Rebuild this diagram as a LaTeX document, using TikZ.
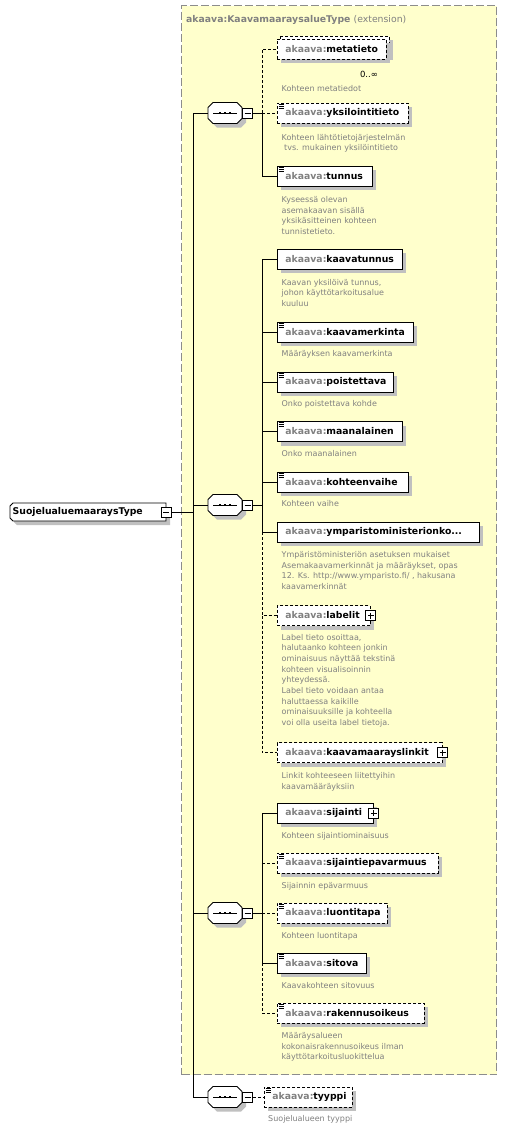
\documentclass[tikz,border=0pt]{standalone}
\usepackage{fontspec}
\setmainfont{DejaVu Sans}
\usetikzlibrary{shadows}
\definecolor{ylw}{RGB}{255,255,204}
\definecolor{shd}{RGB}{192,192,192}
\definecolor{tg}{RGB}{128,128,128}
\definecolor{bordergray}{RGB}{140,140,140}
\newcommand\ak[1]{\textcolor{tg}{akaava:}#1}
\newcommand\simpleicon[1]{%
  \draw[line width=0.7pt] ([shift={(1.5pt,-1.5pt)}]#1.north west) -- ++(5.5pt,0pt);
  \draw[line width=0.7pt] ([shift={(1.5pt,-3.5pt)}]#1.north west) -- ++(5.5pt,0pt);
  \draw[line width=0.7pt] ([shift={(1.5pt,-5.5pt)}]#1.north west) -- ++(5.5pt,0pt);}
\newcommand\seqnode[3]{%
  \begin{scope}[shift={(#2,#3)}]
    \fill[shd] (-13,-1.5) -- (-8,-6.5) -- (16,-6.5) -- (21,-1.5) -- (21,9.5) -- (16,14.5) -- (-8,14.5) -- (-13,9.5) -- cycle;
    \draw[fill=white, line width=0.8pt] (-17,-5.5) -- (-12,-10.5) -- (12,-10.5) -- (17,-5.5) -- (17,5.5) -- (12,10.5) -- (-12,10.5) -- (-17,5.5) -- cycle;
    \draw[line width=0.8pt] (-12,0) -- (12,0);
    \fill (-6.3,-1.3) rectangle (-3.7,1.3);
    \fill (-1.3,-1.3) rectangle (1.3,1.3);
    \fill (3.7,-1.3) rectangle (6.3,1.3);
    \node[seqbox] (#1) at (0,0) {};
    \node[pmminus] (#1m) at (22.5,0) {};
  \end{scope}}
\tikzset{
  elem/.style={draw, fill=white, line width=0.8pt, minimum height=20pt,
    inner xsep=8pt, inner ysep=0pt, anchor=west, align=left, text width=#1,
    font=\fontsize{9.3}{11}\selectfont\bfseries,
    drop shadow={shadow xshift=4pt, shadow yshift=-4pt, fill=shd, opacity=1}},
  optl/.style={dash pattern=on 3pt off 2pt},
  optelem/.style={elem=#1, optl},
  desc/.style={anchor=north west, inner sep=0pt, align=left, text=tg,
    font=\fontsize{8}{10.67}\selectfont},
  conn/.style={line width=0.8pt},
  seqbox/.style={draw=none, minimum width=34pt, minimum height=21pt, inner sep=0pt},
  pm/.style={draw, fill=white, line width=0.7pt, minimum width=10pt, minimum height=10pt, inner sep=0pt},
  pmminus/.style={pm, path picture={\draw[line width=0.7pt] ([xshift=2pt]path picture bounding box.west) -- ([xshift=-2pt]path picture bounding box.east);}},
  pmplus/.style={pm, path picture={\draw[line width=0.7pt] ([xshift=2pt]path picture bounding box.west) -- ([xshift=-2pt]path picture bounding box.east);
      \draw[line width=0.7pt] ([yshift=-2pt]path picture bounding box.north) -- ([yshift=2pt]path picture bounding box.south);}},
  extbox/.style={draw=bordergray, fill=ylw, line width=1pt, dash pattern=on 8pt off 3pt, anchor=north west, inner sep=0pt},
}
\begin{document}
\begin{tikzpicture}[x=1pt,y=-1pt]
\useasboundingbox[fill=white] (0,0) rectangle (507,1130);

% extension area
\node[extbox, minimum width=315pt, minimum height=1069pt] (ext) at (181,5) {};
\node[anchor=base west, inner sep=0pt, text=tg, font=\fontsize{9.3}{11}\selectfont\bfseries] (title) at (186,22) {akaava:KaavamaaraysalueType {\mdseries (extension)}};

% root
\fill[shd] (17,507) -- (170,507) -- (170,525) -- (17,525) -- (14,522) -- (14,510) -- cycle;
\draw[fill=white, line width=0.8pt] (13,503) -- (166,503) -- (166,521) -- (13,521) -- (10,518) -- (10,506) -- cycle;
\node[anchor=west, inner sep=0pt, font=\fontsize{9.3}{11}\selectfont\bfseries] (root) at (12.5,512) {SuojelualuemaaraysType};
\node[pmminus] (rootm) at (166,512) {};

% sequences
\seqnode{sa}{225}{113}
\seqnode{sb}{225}{505}
\seqnode{sc}{225}{913}
\seqnode{sd}{225}{1097}

% group 1
\draw[optl, fill=white, line width=0.8pt, drop shadow={shadow xshift=4pt, shadow yshift=-4pt, fill=shd, opacity=1}] (280,36) rectangle (389,56);
\node[optelem=93pt] (meta) at (277,49) {\ak{metatieto}};
\node[anchor=base, inner sep=0pt, font=\fontsize{8.5}{10}\selectfont] (mult) at (369,77) {0..∞};
\node[desc] (dmeta) at (281.5,85.4) {Kohteen metatiedot};

\node[optelem=115pt] (yks) at (277,113) {\ak{yksilointitieto}};
\simpleicon{yks}
\node[desc] (dyks) at (281.5,133.9) {Kohteen lähtötietojärjestelmän\\\hspace*{2.5pt}tvs. mukainen yksilöintitieto};

\node[elem=79pt] (tunnus) at (277,176) {\ak{tunnus}};
\simpleicon{tunnus}
\node[desc] (dtunnus) at (281.5,196.2) {Kyseessä olevan\\asemakaavan sisällä\\yksikäsitteinen kohteen\\tunnistetieto.};

% group 2
\node[elem=109pt] (kaavatunnus) at (277,259) {\ak{kaavatunnus}};
\node[desc] (dkaavatunnus) at (281.5,278.9) {Kaavan yksilöivä tunnus,\\johon käyttötarkoitusalue\\kuuluu};

\node[elem=120pt] (kaavamerkinta) at (277,332) {\ak{kaavamerkinta}};
\simpleicon{kaavamerkinta}
\node[desc] (dkaavamerkinta) at (281.5,350.6) {Määräyksen kaavamerkinta};

\node[elem=100pt] (poistettava) at (277,382) {\ak{poistettava}};
\simpleicon{poistettava}
\node[desc] (dpoistettava) at (281.5,400.6) {Onko poistettava kohde};

\node[elem=109pt] (maanalainen) at (277,431.5) {\ak{maanalainen}};
\simpleicon{maanalainen}
\node[desc] (dmaanalainen) at (281.5,450.6) {Onko maanalainen};

\node[elem=115pt] (kohteenvaihe) at (277,482) {\ak{kohteenvaihe}};
\simpleicon{kohteenvaihe}
\node[desc] (dkohteenvaihe) at (281.5,500.6) {Kohteen vaihe};

\node[elem=186pt] (ymp) at (277,532) {\ak{ymparistoministerionko...}};
\node[desc] (dymp) at (281.5,551.2) {Ympäristöministeriön asetuksen mukaiset\\Asemakaavamerkinnät ja määräykset, opas\\12. Ks. http://www.ymparisto.fi/ , hakusana\\kaavamerkinnät};

\node[optelem=77pt] (labelit) at (277,615.5) {\ak{labelit}};
\node[pmplus] (labelitp) at (labelit.east) {};
\node[desc] (dlabelit) at (281.5,633.9) {Label tieto osoittaa,\\halutaanko kohteen jonkin\\ominaisuus näyttää tekstinä\\kohteen visualisoinnin\\yhteydessä.\\Label tieto voidaan antaa\\haluttaessa kaikille\\ominaisuuksille ja kohteella\\voi olla useita label tietoja.};

\node[optelem=149pt] (linkit) at (277,752.7) {\ak{kaavamaarayslinkit}};
\node[pmplus] (linkitp) at (linkit.east) {};
\node[desc] (dlinkit) at (281.5,772.1) {Linkit kohteeseen liitettyihin\\kaavamääräyksiin};

% group 3
\node[elem=80pt] (sijainti) at (277,813) {\ak{sijainti}};
\node[pmplus] (sijaintip) at (sijainti.east) {};
\node[desc] (dsijainti) at (281.5,832.2) {Kohteen sijaintiominaisuus};

\node[optelem=145pt] (sijaintiep) at (277,863) {\ak{sijaintiepavarmuus}};
\simpleicon{sijaintiep}
\node[desc] (dsijaintiep) at (281.5,882.2) {Sijainnin epävarmuus};

\node[optelem=94pt] (luontitapa) at (277,913) {\ak{luontitapa}};
\simpleicon{luontitapa}
\node[desc] (dluontitapa) at (281.5,932.2) {Kohteen luontitapa};

\node[elem=73pt] (sitova) at (277,963) {\ak{sitova}};
\simpleicon{sitova}
\node[desc] (dsitova) at (281.5,982.2) {Kaavakohteen sitovuus};

\node[optelem=131pt] (rak) at (277,1013) {\ak{rakennusoikeus}};
\simpleicon{rak}
\node[desc] (drak) at (281.5,1032.2) {Määräysalueen\\kokonaisrakennusoikeus ilman\\käyttötarkoitusluokittelua};

% group 4
\node[optelem=72pt] (tyyppi) at (264,1097) {\ak{tyyppi}};
\simpleicon{tyyppi}
\node[desc] (dtyyppi) at (268,1115.4) {Suojelualueen tyyppi};

% trunk
\coordinate (tt) at (193,113);
\coordinate (tb) at (193,1097);
\draw[conn] (tt) -- (tb);
\draw[conn] (rootm.east) -- (rootm.east -| tt);
\draw[conn] (sa.west) -- (sa.west -| tt);
\draw[conn] (sb.west) -- (sb.west -| tt);
\draw[conn] (sc.west) -- (sc.west -| tt);
\draw[conn] (sd.west) -- (sd.west -| tt);

% branch 1
\coordinate (b1) at (262,113);
\draw[conn] (sam.east) -- (b1);
\draw[conn,optl] (b1) |- (meta.west);
\draw[conn,optl] (b1) -- (yks.west);
\draw[conn] (b1) |- (tunnus.west);

% branch 2
\coordinate (b2) at (262,505);
\draw[conn] (sbm.east) -- (b2);
\draw[conn] (b2) |- (kaavatunnus.west);
\draw[conn] (kaavamerkinta.west -| b2) -- (kaavamerkinta.west);
\draw[conn] (poistettava.west -| b2) -- (poistettava.west);
\draw[conn] (maanalainen.west -| b2) -- (maanalainen.west);
\draw[conn] (kohteenvaihe.west -| b2) -- (kohteenvaihe.west);
\draw[conn] (b2) |- (ymp.west);
\draw[conn,optl] (ymp.west -| b2) |- (labelit.west);
\draw[conn,optl] (labelit.west -| b2) |- (linkit.west);

% branch 3
\coordinate (b3) at (262,913);
\draw[conn] (scm.east) -- (b3);
\draw[conn] (b3) |- (sijainti.west);
\draw[conn,optl] (sijaintiep.west -| b3) -- (sijaintiep.west);
\draw[conn,optl] (b3) -- (luontitapa.west);
\draw[conn] (b3) |- (sitova.west);
\draw[conn,optl] (sitova.west -| b3) |- (rak.west);

% branch 4
\draw[conn,optl] (sdm.east) -- (tyyppi.west);
\end{tikzpicture}
\end{document}
